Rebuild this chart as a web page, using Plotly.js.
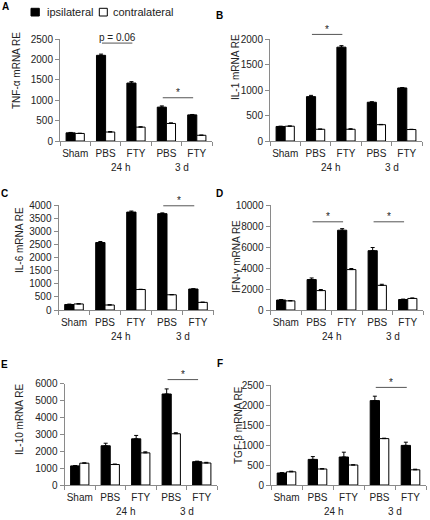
<!DOCTYPE html>
<html><head><meta charset="utf-8">
<script src="https://cdn.plot.ly/plotly-3.0.1.min.js"></script>
<style>html,body{margin:0;padding:0;background:#fff}#chart{width:430px;height:520px}</style>
</head><body><div id="chart"></div>
<script>
// ---------- data ----------
const categories = ['Sham', 'PBS', 'FTY', 'PBS', 'FTY'];
const timeGroups = ['', '24 h', '24 h', '3 d', '3 d'];
const seriesNames = ['ipsilateral', 'contralateral'];

const tnfIpsi = [200, 2100, 1420, 830, 640];
const tnfIpsiErr = [10, 30, 35, 30, 10];
const tnfContra = [185, 220, 340, 430, 140];
const tnfContraErr = [5, 10, 10, 15, 5];
const tnfSig = [{from: 1, to: 2, y: 2400, label: 'p = 0.06'}, {from: 3, to: 4, y: 1060, label: '*'}];

const il1Ipsi = [285, 870, 1840, 760, 1040];
const il1IpsiErr = [5, 25, 30, 10, 8];
const il1Contra = [290, 230, 230, 320, 225];
const il1ContraErr = [5, 5, 10, 5, 5];
const il1Sig = [{from: 1, to: 2, y: 2090, label: '*'}];

const il6Ipsi = [210, 2570, 3730, 3670, 800];
const il6IpsiErr = [15, 40, 40, 30, 10];
const il6Contra = [230, 190, 780, 580, 290];
const il6ContraErr = [10, 10, 10, 10, 10];
const il6Sig = [{from: 3, to: 4, y: 3970, label: '*'}];

const ifnIpsi = [950, 2900, 7600, 5650, 1000];
const ifnIpsiErr = [50, 150, 150, 300, 40];
const ifnContra = [870, 1850, 3850, 2350, 1100];
const ifnContraErr = [30, 100, 100, 100, 50];
const ifnSig = [{from: 1, to: 2, y: 8400, label: '*'}, {from: 3, to: 4, y: 8400, label: '*'}];

const il10Ipsi = [1130, 2320, 2730, 5380, 1380];
const il10IpsiErr = [20, 150, 200, 300, 30];
const il10Contra = [1290, 1210, 1900, 3030, 1300];
const il10ContraErr = [20, 30, 60, 60, 40];
const il10Sig = [{from: 3, to: 4, y: 6230, label: '*'}];

const tgfIpsi = [300, 640, 700, 2110, 990];
const tgfIpsiErr = [10, 70, 120, 110, 80];
const tgfContra = [330, 400, 500, 1160, 380];
const tgfContraErr = [15, 10, 5, 10, 15];
const tgfSig = [{from: 3, to: 4, y: 2440, label: '*'}];

const panelLetters = ['A', 'B', 'C', 'D', 'E', 'F'];
const panelTitles = ['TNF-α mRNA RE', 'IL-1 mRNA RE', 'IL-6 mRNA RE', 'IFN-γ mRNA RE', 'IL-10 mRNA RE', 'TGF-β mRNA RE'];
const yMaxes = [2500, 2000, 4000, 10000, 6000, 2500];
const yDticks = [500, 500, 500, 2000, 1000, 500];

const panels = [
  {ipsi: tnfIpsi, ipsiErr: tnfIpsiErr, contra: tnfContra, contraErr: tnfContraErr, sig: tnfSig},
  {ipsi: il1Ipsi, ipsiErr: il1IpsiErr, contra: il1Contra, contraErr: il1ContraErr, sig: il1Sig},
  {ipsi: il6Ipsi, ipsiErr: il6IpsiErr, contra: il6Contra, contraErr: il6ContraErr, sig: il6Sig},
  {ipsi: ifnIpsi, ipsiErr: ifnIpsiErr, contra: ifnContra, contraErr: ifnContraErr, sig: ifnSig},
  {ipsi: il10Ipsi, ipsiErr: il10IpsiErr, contra: il10Contra, contraErr: il10ContraErr, sig: il10Sig},
  {ipsi: tgfIpsi, ipsiErr: tgfIpsiErr, contra: tgfContra, contraErr: tgfContraErr, sig: tgfSig}
];

// ---------- layout geometry (pixels) ----------
const W = 430, H = 520;
const boxes = [
  [60, 212, 39, 141],
  [270, 422, 39, 141],
  [58.5, 213.5, 205, 310],
  [270.5, 423, 205, 310],
  [64.5, 217, 383.5, 485],
  [271, 426, 385, 485]
];
const letterPos = [[5.5, 7], [219.5, 15.5], [4.5, 193.5], [219.5, 193.5], [4.5, 364.5], [219.5, 363]];
const titlePos = [[17, 71], [235, 67], [19, 240], [236, 257], [19, 420], [238, 425]];

const FONT = 'Liberation Sans, Arial, sans-serif';
const TXT = '#222';
const AXC = '#8a8a8a';
const px = v => v / W;
const py = v => 1 - v / H;

const idx = categories.map((_, i) => i);
const traces = [];
const layout = {
  width: W, height: H,
  margin: {l: 0, r: 0, t: 0, b: 0},
  paper_bgcolor: '#fff', plot_bgcolor: '#fff',
  showlegend: false,
  barmode: 'group', bargap: 0.4, bargroupgap: 0,
  font: {family: FONT, size: 10, color: TXT},
  shapes: [], annotations: []
};

panels.forEach((p, k) => {
  const n = k + 1;
  const xa = n === 1 ? 'x' : 'x' + n;
  const ya = n === 1 ? 'y' : 'y' + n;
  const b = boxes[k];
  [[p.ipsi, p.ipsiErr, '#000'], [p.contra, p.contraErr, '#fff']].forEach((s, j) => {
    traces.push({
      type: 'bar', x: idx, y: s[0], name: seriesNames[j],
      xaxis: xa, yaxis: ya,
      marker: {color: s[2], line: {color: '#000', width: 1}},
      error_y: {type: 'data', symmetric: false, array: s[1], arrayminus: s[1].map(() => 0),
                color: '#000', thickness: 1, width: 2},
      hoverinfo: 'skip'
    });
  });
  layout['xaxis' + (n === 1 ? '' : n)] = {
    domain: [px(b[0]), px(b[1])], anchor: ya,
    range: [-0.5, categories.length - 0.5],
    tickmode: 'array', tickvals: idx, ticktext: categories,
    ticks: '', showline: true, linecolor: AXC, linewidth: 1,
    showgrid: false, zeroline: false, fixedrange: true,
    tickfont: {family: FONT, size: 10, color: TXT}, ticklabelstandoff: 3,
    minor: {ticks: 'outside', ticklen: 4, tickcolor: AXC, tickwidth: 1,
            tickmode: 'array', tickvals: idx.concat([categories.length]).map(v => v - 0.5), showgrid: false}
  };
  layout['yaxis' + (n === 1 ? '' : n)] = {
    domain: [py(b[3]), py(b[2])], anchor: xa,
    range: [0, yMaxes[k]], dtick: yDticks[k], tick0: 0,
    tickformat: 'd', exponentformat: 'none',
    ticks: 'outside', ticklen: 4, tickcolor: AXC, tickwidth: 1,
    showline: true, linecolor: AXC, linewidth: 1,
    showgrid: false, zeroline: false, fixedrange: true,
    tickfont: {family: FONT, size: 10, color: TXT}
  };
  // group labels (24 h, 3 d)
  const uniq = [...new Set(timeGroups.filter(g => g))];
  uniq.forEach(g => {
    const ii = idx.filter(i => timeGroups[i] === g);
    layout.annotations.push({
      xref: xa, yref: ya + ' domain', x: ii.reduce((a, c) => a + c, 0) / ii.length, y: 0,
      yshift: -26.5, yanchor: 'middle', xanchor: 'center', showarrow: false,
      text: g, font: {family: FONT, size: 10, color: TXT}
    });
  });
  // significance markers
  p.sig.forEach(s => {
    const x0 = s.from - 0.12, x1 = s.to - 0.12;
    const yd = s.y / yMaxes[k];
    layout.shapes.push({type: 'line', xref: xa, yref: ya + ' domain',
      x0: x0, x1: x1, y0: yd, y1: yd,
      line: {color: '#555', width: 1}});
    layout.annotations.push({xref: xa, yref: ya + ' domain', x: (x0 + x1) / 2, y: yd,
      yanchor: 'middle', xanchor: 'center', yshift: s.label === '*' ? 5 : 6,
      showarrow: false, text: s.label, font: {family: FONT, size: 10, color: TXT}});
  });
  // panel letter
  layout.annotations.push({xref: 'paper', yref: 'paper', x: px(letterPos[k][0]), y: py(letterPos[k][1]),
    xanchor: 'center', yanchor: 'middle', showarrow: false,
    text: '<b>' + panelLetters[k] + '</b>', font: {family: FONT, size: 10, color: '#000'}});
  // y title
  layout.annotations.push({xref: 'paper', yref: 'paper', x: px(titlePos[k][0]), y: py(titlePos[k][1]),
    xanchor: 'center', yanchor: 'middle', showarrow: false, textangle: -90,
    text: panelTitles[k], font: {family: FONT, size: 10, color: TXT}});
});

// legend (top)
const legendItems = [[31, 39.3, 45, '#000'], [99.3, 107.3, 111, '#fff']];
legendItems.forEach((it, j) => {
  layout.shapes.push({type: 'rect', xref: 'paper', yref: 'paper',
    x0: px(it[0]), x1: px(it[1]), y0: py(16), y1: py(8.3),
    fillcolor: it[3], line: {color: '#000', width: 1}});
  layout.annotations.push({xref: 'paper', yref: 'paper', x: px(it[2]), y: py(12),
    xanchor: 'left', yanchor: 'middle', showarrow: false, text: seriesNames[j],
    font: {family: FONT, size: 11, color: TXT}});
});

Plotly.newPlot('chart', traces, layout, {staticPlot: true, displayModeBar: false});
</script></body></html>
